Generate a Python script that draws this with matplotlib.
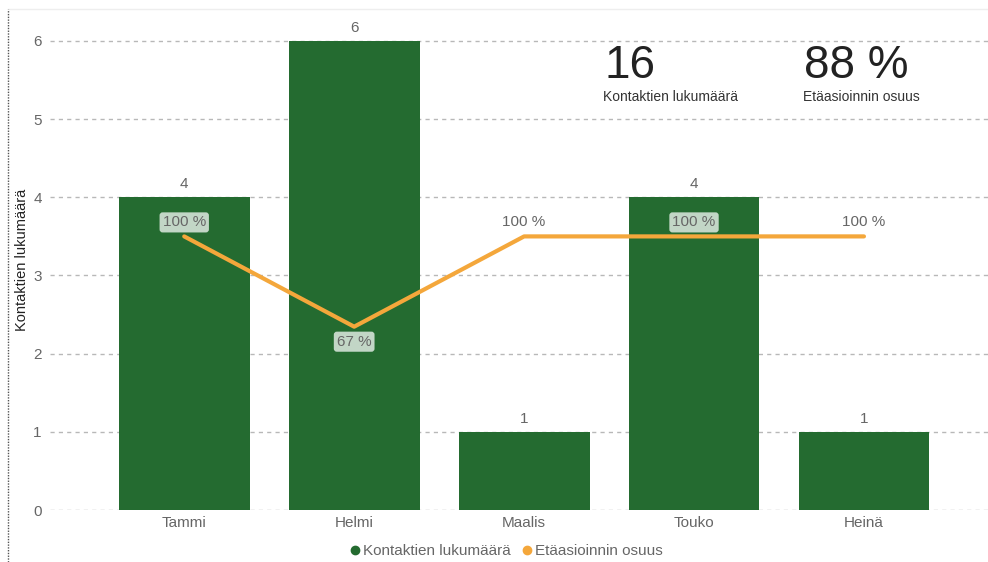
import matplotlib
matplotlib.use("Agg")
import matplotlib.pyplot as plt
from matplotlib.lines import Line2D

plt.rcParams["font.family"] = ["Liberation Sans", "DejaVu Sans"]

months = ["Tammi", "Helmi", "Maalis", "Touko", "Heinä"]
contacts = [4, 6, 1, 4, 1]
remote_share = [100, 67, 100, 100, 100]
total_contacts = "16"
total_share = "88 %"

GREEN = "#246b30"
ORANGE = "#f4a73b"
GRAY = "#666666"

fig = plt.figure(figsize=(9.88, 5.62), dpi=100)
ax = fig.add_axes([50 / 988, 52 / 562, 938 / 988, 500 / 562])
x = list(range(len(months)))

ax.bar(x, contacts, width=0.77, color=GREEN, zorder=2)
for xi, v in zip(x, contacts):
    ax.text(xi, v + 0.08, str(v), ha="center", va="bottom", fontsize=11, color=GRAY)

ax.set_xlim(-0.79, 4.73)
ax.set_ylim(0, 500 / 78.17)
ax.set_yticks(range(7))
ax.grid(axis="y", linestyle=(0, (3, 3)), color="#b8b8b8", linewidth=1, zorder=0)
ax.set_axisbelow(True)
for s in ax.spines.values():
    s.set_visible(False)
ax.tick_params(axis="y", length=0, labelsize=11, labelcolor=GRAY, pad=6)
ax.tick_params(axis="x", length=0, labelsize=11, labelcolor=GRAY, pad=4)
ax.set_xticks(x)
ax.set_xticklabels(months)
ax.set_ylabel("Kontaktien lukumäärä", fontsize=10.5, color="#222222")
ax.yaxis.set_label_coords(-21 / 938, 0.5)

# line on a secondary scale (100 % sits at 3.5 on the primary axis)
ax2 = ax.twinx()
ax2.set_ylim(0, 100 * (500 / 78.17) / 3.5)
ax2.axis("off")
ax2.plot(x, remote_share, color=ORANGE, linewidth=3, zorder=3, solid_capstyle="round")
for xi, v, c in zip(x, remote_share, contacts):
    inside = c >= 2
    off = -15 if v < 100 else 14
    box = dict(boxstyle="round,pad=0.2,rounding_size=0.2", fc="#c2d6c6", ec="none") if inside else None
    ax2.annotate(f"{v} %", (xi, v), xytext=(0, off), textcoords="offset pixels",
                 ha="center", va="center", fontsize=11, color=GRAY, bbox=box, zorder=4)

# KPI cards
fig.text(604 / 988, 1 - 66 / 562, total_contacts, fontsize=33, color="#222222", va="center", ha="left")
fig.text(603 / 988, 1 - 97 / 562, "Kontaktien lukumäärä", fontsize=10, color="#333333", va="center", ha="left")
fig.text(804 / 988, 1 - 66 / 562, total_share, fontsize=33, color="#222222", va="center", ha="left")
fig.text(803 / 988, 1 - 97 / 562, "Etäasioinnin osuus", fontsize=10, color="#333333", va="center", ha="left")

# legend
handles = [Line2D([], [], marker="o", linestyle="none", color=GREEN, markersize=6),
           Line2D([], [], marker="o", linestyle="none", color=ORANGE, markersize=6)]
fig.legend(handles, ["Kontaktien lukumäärä", "Etäasioinnin osuus"], loc="center",
           bbox_to_anchor=(505 / 988, 1 - 551 / 562), ncol=2, frameon=False, fontsize=11,
           handletextpad=0.0, columnspacing=0.6, labelcolor=GRAY, handlelength=1.0)

# frame decorations
fig.add_artist(Line2D([8 / 988, 1], [1 - 9 / 562] * 2, color="#eeeeee", linewidth=1))
fig.add_artist(Line2D([8 / 988] * 2, [0, 1 - 9 / 562], color="#555555", linewidth=1, linestyle=(0, (1, 1))))

fig.savefig("out.png", dpi=100)
